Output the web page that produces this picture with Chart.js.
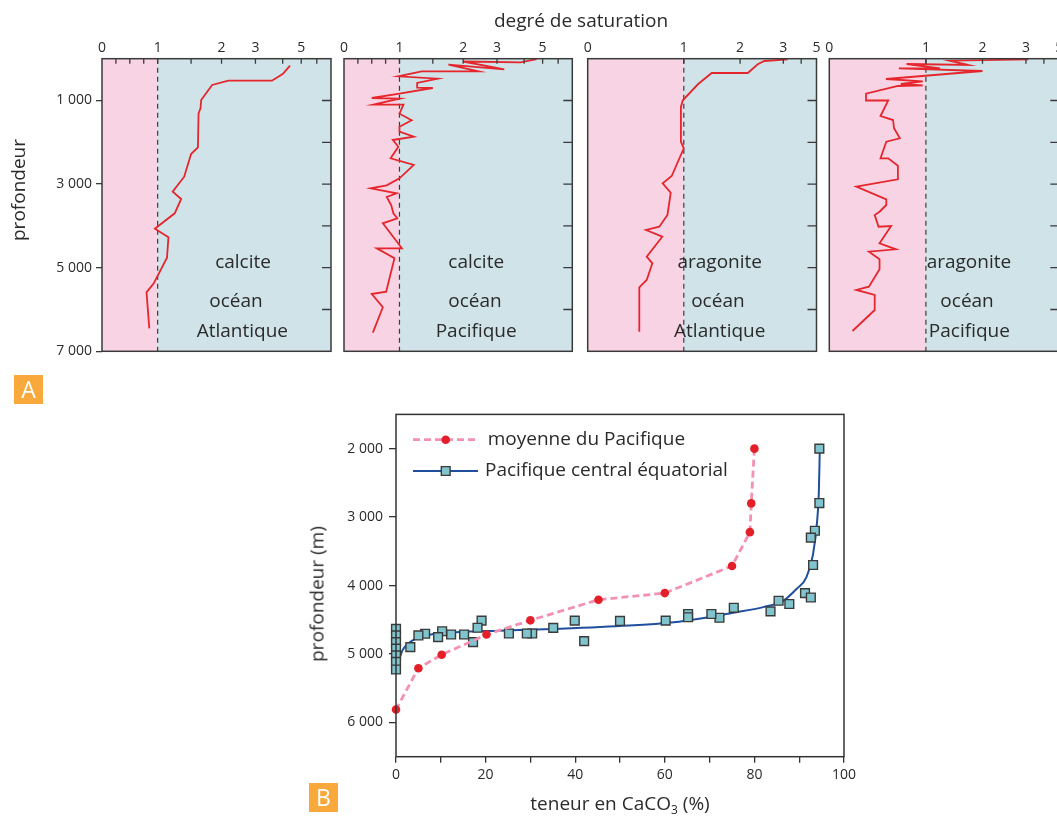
<!DOCTYPE html>
<html><head><meta charset="utf-8">
<script src="https://cdn.jsdelivr.net/npm/chart.js@4.4.1/dist/chart.umd.min.js"></script>
<style>
html,body{margin:0;padding:0;background:#fff;overflow:hidden;width:1057px;height:816px;}
body{position:relative;font-family:"Open Sans",sans-serif;color:#2b2b2b;}
canvas{position:absolute;}
.t{position:absolute;white-space:nowrap;transform:translate(-50%,-50%);line-height:1;font-size:19px;}
.rot{transform:translate(-50%,-50%) rotate(-90deg);}
.badge{position:absolute;width:29px;height:29px;background:#f9a93c;color:#fff;font-size:23px;text-align:center;line-height:29px;}
sub{font-size:12px;vertical-align:-4px;line-height:0;}
</style></head><body>
<canvas id="pA1" width="345" height="372" style="left:0;top:0"></canvas>
<canvas id="pA2" width="250" height="372" style="left:334px;top:0"></canvas>
<canvas id="pA3" width="250" height="372" style="left:578px;top:0"></canvas>
<canvas id="pA4" width="260" height="372" style="left:819px;top:0"></canvas>
<canvas id="pB" width="560" height="416" style="left:300px;top:400px"></canvas>
<div class="t" style="left:581px;top:20px">degré de saturation</div>
<div class="t rot" style="left:18px;top:190px">profondeur</div>
<div class="t rot" style="left:317px;top:594px">profondeur (m)</div>
<div class="t" style="left:620px;top:803px">teneur en CaCO<sub>3</sub> (%)</div>
<div class="badge" style="left:14px;top:375px">A</div>
<div class="badge" style="left:309px;top:783px">B</div>
<script>
// ---------- DATA : panel A (profondeur en m, degré de saturation) ----------
const calciteAtlDepth = [167, 366, 526, 526, 629, 988, 1187, 1306, 2120, 2280, 2823, 3182, 3356, 3699, 4067, 4273, 4761, 5373, 5589, 6450];
const calciteAtlSat   = [4.37, 4.0, 3.57, 2.17, 1.83, 1.65, 1.64, 1.61, 1.60, 1.50, 1.38, 1.20, 1.33, 1.23, 0.95, 1.14, 1.12, 0.93, 0.80, 0.85];

const calcitePacDepth = [10, 86, 67, 254, 143, 302, 302, 421, 478, 581, 694, 701, 837, 940, 957, 1100, 1100, 1316, 1474, 1627, 1746, 1866, 1945, 2105, 2383, 2543, 2861, 3029, 3101, 3220, 3308, 3500, 3699, 3818, 3938, 4536, 4536, 4775, 5574, 5629, 5947, 6555];
const calcitePacSat   = [4.65, 3.85, 2.0, 3.24, 1.74, 2.40, 1.31, 0.98, 1.57, 1.24, 1.24, 1.5, 1.0, 0.50, 1.0, 0.53, 1.05, 1.0, 1.16, 1.0, 1.0, 1.19, 0.88, 0.98, 0.84, 1.19, 1.0, 0.77, 0.48, 0.95, 0.77, 0.85, 0.89, 0.96, 0.70, 1.03, 0.59, 0.91, 0.76, 0.50, 0.70, 0.52];

const aragAtlDepth = [14, 55, 134, 342, 342, 612, 995, 1155, 1986, 2144, 2806, 2981, 3206, 3739, 4019, 4098, 4258, 4737, 4895, 5294, 5469, 6531];
const aragAtlSat   = [3.22, 2.51, 2.36, 2.15, 1.41, 1.19, 0.99, 0.97, 0.97, 1.0, 0.874, 0.78, 0.864, 0.83, 0.745, 0.607, 0.776, 0.614, 0.673, 0.614, 0.537, 0.537];

const aragPacDepth = [14, 48, 151, 127, 230, 230, 294, 486, 541, 605, 636, 653, 837, 1000, 995, 1371, 1467, 1665, 1904, 1986, 2383, 2383, 2560, 2885, 3062, 3364, 3500, 3660, 3739, 4019, 4002, 4416, 4560, 4617, 4799, 5038, 5455, 5533, 5653, 6012, 6514];
const aragPacSat   = [3.12, 1.34, 1.68, 0.80, 1.19, 0.72, 2.0, 0.587, 0.967, 0.74, 0.967, 0.71, 0.38, 0.38, 0.61, 0.53, 0.66, 0.67, 0.73, 0.59, 0.53, 0.61, 0.71, 0.71, 0.28, 0.59, 0.59, 0.52, 0.47, 0.51, 0.64, 0.52, 0.69, 0.41, 0.52, 0.52, 0.41, 0.28, 0.47, 0.47, 0.24];

// tick labels panel A
const satTickLabels = [0, 1, 2, 3, 5];
const depthLabelTicks = [1000, 3000, 5000, 7000];
const innerDepthTicks = [1000, 2000, 3000, 4000, 5000, 6000];

// ---------- DATA : panel B (teneur en CaCO3 %, profondeur m) ----------
const moyennePct   = [80, 79.3, 79, 75, 60, 45.2, 30, 20.2, 10.2, 5, 0];
const moyenneDepth = [2000, 2800, 3220, 3715, 4110, 4207, 4508, 4716, 5010, 5207, 5810];

const centralPct   = [94.5, 94.5, 93.5, 92.6, 93.1, 91.3, 92.6, 87.8, 85.4, 83.6, 75.4, 72.2, 70.4, 65.2, 65.2, 60.2, 50.0, 42.0, 39.9, 35.1, 30.4, 29.2, 25.2, 19.1, 18.2, 17.2, 15.2, 12.3, 10.3, 9.4, 6.5, 5.0, 3.2, 0, 0, 0, 0, 0, 0, 0];
const centralDepth = [2000, 2795, 3200, 3300, 3700, 4110, 4175, 4270, 4222, 4377, 4325, 4470, 4415, 4415, 4463, 4512, 4517, 4812, 4512, 4619, 4700, 4700, 4700, 4512, 4617, 4826, 4715, 4715, 4667, 4754, 4704, 4729, 4899, 4632, 4729, 4826, 4922, 5019, 5116, 5226];

const curvePct   = [0.9, 1.5, 2.5, 4, 6, 9, 14, 23, 35, 52, 62, 68, 75, 82, 86.5, 89.4, 91.6, 93.1, 94, 94.4, 94.6];
const curveDepth = [5040, 4940, 4860, 4790, 4740, 4705, 4680, 4660, 4635, 4585, 4535, 4480, 4400, 4315, 4220, 4050, 3880, 3540, 3060, 2600, 2000];

const xTicksB = [0, 10, 20, 30, 40, 50, 60, 70, 80, 90, 100];
const depthTicksB = [2000, 3000, 4000, 5000, 6000];

// ---------- scale: degree of saturation (linear 0-1, log above 1) ----------
const SAT_AXES = {
  wide:   { anchors: [[0,0],[1,0.243],[1.5,0.389],[2,0.522],[3,0.670],[4,0.789],[5,0.870],[6,0.938],[7,1]], ticks: [0,0.25,0.5,0.75,1,1.5,2,3,4,5,6,7] },
  narrow: { anchors: [[0,0],[1,0.42],[2,0.666],[3,0.855],[4,0.933],[5,1]], ticks: [0,1,2,3,4,5] }
};
function satFrac(v, an) {
  if (v <= an[1][0]) return an[1][1] * v / an[1][0];
  for (let i = 1; i < an.length - 1; i++) {
    const v0 = an[i][0], f0 = an[i][1], v1 = an[i+1][0], f1 = an[i+1][1];
    if (v <= v1 || i === an.length - 2) return f0 + (f1 - f0) * Math.log(v / v0) / Math.log(v1 / v0);
  }
  return 1;
}
function satInv(f, an) {
  if (f <= an[1][1]) return an[1][0] * f / an[1][1];
  for (let i = 1; i < an.length - 1; i++) {
    const v0 = an[i][0], f0 = an[i][1], v1 = an[i+1][0], f1 = an[i+1][1];
    if (f <= f1 || i === an.length - 2) return v0 * Math.pow(v1 / v0, (f - f0) / (f1 - f0));
  }
  return an[an.length-1][0];
}
class SatScale extends Chart.LinearScale {
  _ax() { return SAT_AXES[this.options.satAxis] || SAT_AXES.wide; }
  determineDataLimits() { const a = this._ax().anchors; this.min = 0; this.max = a[a.length-1][0]; }
  buildTicks() { return this._ax().ticks.map(v => ({ value: v })); }
  getPixelForValue(value) {
    if (value === null || value === undefined || isNaN(value)) return NaN;
    return this.left + this.width * satFrac(value, this._ax().anchors);
  }
  getValueForPixel(pixel) { return satInv((pixel - this.left) / this.width, this._ax().anchors); }
}
SatScale.id = 'saturation';
SatScale.defaults = {};
Chart.register(SatScale);

Chart.defaults.font.family = '"Open Sans", sans-serif';
Chart.defaults.color = '#2b2b2b';

const fmtThousands = v => String(v).replace(/\B(?=(\d{3})+(?!\d))/g, ' ');

const satPanelPlugin = {
  id: 'satPanel',
  beforeDatasetsDraw(chart) {
    const { ctx, chartArea: a, scales: { x } } = chart;
    const x1 = x.getPixelForValue(1);
    ctx.save();
    ctx.fillStyle = '#f8d3e3';
    ctx.fillRect(a.left, a.top, x1 - a.left, a.bottom - a.top);
    ctx.fillStyle = '#cfe3e8';
    ctx.fillRect(x1, a.top, a.right - x1, a.bottom - a.top);
    ctx.strokeStyle = '#3c3c3c'; ctx.lineWidth = 1.2; ctx.setLineDash([5, 4]);
    ctx.beginPath(); ctx.moveTo(x1, a.top); ctx.lineTo(x1, a.bottom); ctx.stroke();
    ctx.restore();
  },
  afterDatasetsDraw(chart, args, opts) {
    const { ctx, chartArea: a, scales: { x, y } } = chart;
    ctx.save();
    ctx.strokeStyle = '#3a3a3a'; ctx.lineWidth = 1.3;
    ctx.beginPath();
    x.ticks.forEach(t => {
      if (t.value <= 0 || t.value >= x.max) return;
      const px = x.getPixelForValue(t.value);
      ctx.moveTo(px, a.top); ctx.lineTo(px, a.top + 5);
    });
    innerDepthTicks.forEach(d => {
      const py = y.getPixelForValue(d);
      ctx.moveTo(a.right, py); ctx.lineTo(a.right - 9, py);
    });
    ctx.stroke();
    ctx.lineWidth = 1.5;
    ctx.strokeRect(a.left, a.top, a.right - a.left, a.bottom - a.top);
    ctx.fillStyle = '#2b2b2b';
    ctx.font = '19px "Open Sans", sans-serif';
    ctx.textAlign = 'center'; ctx.textBaseline = 'middle';
    (opts.notes || []).forEach(n => {
      ctx.fillText(n.text, a.left + n.fx * (a.right - a.left), a.top + n.fy * (a.bottom - a.top));
    });
    ctx.restore();
  }
};

function makePanel(id, depths, sats, axisKey, showY, pad, notes) {
  return new Chart(document.getElementById(id), {
    type: 'scatter',
    data: { datasets: [{
      data: depths.map((d, i) => ({ x: sats[i], y: d })),
      showLine: true, borderColor: '#e5262d', borderWidth: 1.8, pointRadius: 0, tension: 0
    }] },
    options: {
      responsive: false, animation: false, events: [],
      layout: { padding: pad },
      plugins: { legend: { display: false }, tooltip: { enabled: false }, satPanel: { notes } },
      scales: {
        x: {
          type: 'saturation', satAxis: axisKey, position: 'top',
          grid: { display: false, drawTicks: false }, border: { display: false },
          ticks: { autoSkip: false, maxRotation: 0, padding: 2, font: { size: 14 }, color: '#2b2b2b',
                   callback: v => satTickLabels.includes(v) ? String(v) : '' },
          afterFit: s => { s.height = 58.7; }
        },
        y: {
          type: 'linear', min: 0, max: 7000, reverse: true, display: showY, position: 'left',
          grid: { drawOnChartArea: false, tickLength: 6, color: '#3a3a3a', lineWidth: 1.3 },
          border: { display: false },
          ticks: { padding: 4, font: { size: 14 }, color: '#2b2b2b', callback: v => fmtThousands(v) },
          afterBuildTicks: s => { s.ticks = depthLabelTicks.map(v => ({ value: v })); },
          afterFit: s => { s.width = showY ? 102 : 0; }
        }
      }
    },
    plugins: [satPanelPlugin]
  });
}

const fy = [0.698, 0.831, 0.934];
makePanel('pA1', calciteAtlDepth, calciteAtlSat, 'wide', true, { left: 0, right: 14, top: 0, bottom: 20.7 },
  [{ text: 'calcite', fx: 0.616, fy: fy[0] }, { text: 'océan', fx: 0.585, fy: fy[1] }, { text: 'Atlantique', fx: 0.613, fy: fy[2] }]);
makePanel('pA2', calcitePacDepth, calcitePacSat, 'wide', false, { left: 10, right: 11.7, top: 0, bottom: 20.7 },
  [{ text: 'calcite', fx: 0.579, fy: fy[0] }, { text: 'océan', fx: 0.574, fy: fy[1] }, { text: 'Pacifique', fx: 0.579, fy: fy[2] }]);
makePanel('pA3', aragAtlDepth, aragAtlSat, 'narrow', false, { left: 9.7, right: 11.5, top: 0, bottom: 20.7 },
  [{ text: 'aragonite', fx: 0.577, fy: fy[0] }, { text: 'océan', fx: 0.569, fy: fy[1] }, { text: 'Atlantique', fx: 0.577, fy: fy[2] }]);
makePanel('pA4', aragPacDepth, aragPacSat, 'narrow', false, { left: 10.3, right: 19.7, top: 0, bottom: 20.7 },
  [{ text: 'aragonite', fx: 0.607, fy: fy[0] }, { text: 'océan', fx: 0.599, fy: fy[1] }, { text: 'Pacifique', fx: 0.609, fy: fy[2] }]);

// ---------- panel B ----------
const frameLegendPlugin = {
  id: 'frameLegend',
  afterDatasetsDraw(chart, args, opts) {
    const { ctx, chartArea: a } = chart;
    const ds = chart.data.datasets;
    ctx.save();
    ctx.strokeStyle = '#333'; ctx.lineWidth = 1.5;
    ctx.strokeRect(a.left, a.top, a.right - a.left, a.bottom - a.top);
    opts.items.forEach(it => {
      const ln = ds[it.line], mk = ds[it.marker];
      const yy = a.top + it.dy;
      ctx.save();
      ctx.strokeStyle = ln.borderColor; ctx.lineWidth = ln.borderWidth;
      ctx.setLineDash(ln.borderDash || []);
      ctx.beginPath(); ctx.moveTo(a.left + opts.lineStart, yy); ctx.lineTo(a.left + opts.lineEnd, yy); ctx.stroke();
      ctx.restore();
      ctx.fillStyle = mk.pointBackgroundColor; ctx.strokeStyle = mk.pointBorderColor || mk.pointBackgroundColor;
      ctx.lineWidth = mk.pointBorderWidth || 0;
      Chart.helpers.drawPoint(ctx, { pointStyle: mk.pointStyle || 'circle', radius: mk.pointRadius, rotation: 0, borderWidth: mk.pointBorderWidth || 0 }, a.left + opts.marker, yy);
      ctx.fillStyle = '#2b2b2b'; ctx.font = '19px "Open Sans", sans-serif';
      ctx.textAlign = 'left'; ctx.textBaseline = 'middle';
      ctx.fillText(mk.label, a.left + it.textX, yy);
    });
    ctx.restore();
  }
};

new Chart(document.getElementById('pB'), {
  type: 'scatter',
  data: { datasets: [
    { label: 'moyenne du Pacifique', data: moyennePct.map((p, i) => ({ x: p, y: moyenneDepth[i] })),
      showLine: true, borderColor: '#f391b5', borderDash: [7, 4], borderWidth: 2.8, tension: 0, clip: false,
      pointRadius: 4.3, pointBackgroundColor: '#e3202a', pointBorderColor: '#e3202a', pointBorderWidth: 0 },
    { label: 'Pacifique central équatorial', data: centralPct.map((p, i) => ({ x: p, y: centralDepth[i] })),
      showLine: false, pointStyle: 'rect', pointRadius: 6.2, clip: false,
      pointBackgroundColor: '#80c4ce', pointBorderColor: '#3a3a3a', pointBorderWidth: 1.4 },
    { label: 'courbe Pacifique central équatorial', data: curvePct.map((p, i) => ({ x: p, y: curveDepth[i] })),
      showLine: true, borderColor: '#1f4f9d', borderWidth: 2, pointRadius: 0, cubicInterpolationMode: 'monotone' }
  ] },
  options: {
    responsive: false, animation: false, events: [],
    layout: { padding: { left: 0, right: 13.3, top: 11.7, bottom: 0 } },
    plugins: {
      legend: { display: false }, tooltip: { enabled: false },
      frameLegend: { lineStart: 17, lineEnd: 82, marker: 49.7,
        items: [{ line: 0, marker: 0, dy: 25.3, textX: 91.7 }, { line: 2, marker: 1, dy: 56.6, textX: 89 }] }
    },
    scales: {
      x: { type: 'linear', min: 0, max: 100,
        grid: { drawOnChartArea: false, tickLength: 6, color: '#333', lineWidth: 1.3 }, border: { display: false },
        ticks: { autoSkip: false, maxRotation: 0, padding: 4, font: { size: 14 }, color: '#2b2b2b',
                 callback: v => (v % 20 === 0 ? String(v) : '') },
        afterBuildTicks: s => { s.ticks = xTicksB.map(v => ({ value: v })); },
        afterFit: s => { s.height = 59.3; } },
      y: { type: 'linear', min: 1500, max: 6500, reverse: true,
        grid: { drawOnChartArea: false, tickLength: 7, color: '#333', lineWidth: 1.3 }, border: { display: false },
        ticks: { padding: 6, font: { size: 14 }, color: '#2b2b2b', callback: v => fmtThousands(v) },
        afterBuildTicks: s => { s.ticks = depthTicksB.map(v => ({ value: v })); },
        afterFit: s => { s.width = 96; } }
    }
  },
  plugins: [frameLegendPlugin]
});
</script>
</body></html>
